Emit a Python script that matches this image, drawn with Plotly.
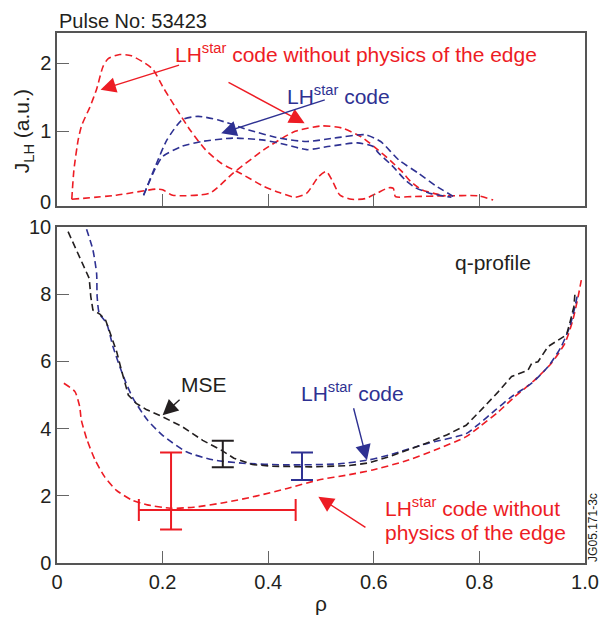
import plotly.graph_objects as go

# ---------------- data: top panel (J_LH, a.u.) ----------------
rho_red_a = [0.028, 0.032, 0.040, 0.046, 0.053, 0.062, 0.075, 0.087, 0.097, 0.119, 0.141, 0.167,
             0.182, 0.200, 0.223, 0.252, 0.281, 0.311, 0.348, 0.392, 0.421, 0.451, 0.473, 0.495,
             0.510, 0.521, 0.536, 0.558, 0.584, 0.606, 0.628, 0.637, 0.641, 0.672, 0.736, 0.798, 0.826]
j_red_a = [0.00, 0.43, 0.87, 1.07, 1.20, 1.35, 1.62, 1.95, 2.07, 2.13, 2.11, 2.00,
           1.91, 1.66, 1.37, 1.02, 0.73, 0.53, 0.38, 0.19, 0.10, 0.03, 0.09, 0.33,
           0.41, 0.28, 0.06, 0.00, 0.01, 0.09, 0.17, 0.16, 0.04, 0.04, 0.05, 0.05, -0.01]

rho_red_b = [0.028, 0.112, 0.188, 0.200, 0.219, 0.289, 0.333, 0.392, 0.451, 0.503, 0.539, 0.576,
             0.609, 0.634, 0.653, 0.670, 0.691, 0.717, 0.736]
j_red_b = [0.00, 0.06, 0.15, 0.14, 0.06, 0.09, 0.38, 0.73, 1.00, 1.08, 1.05, 0.92,
           0.72, 0.55, 0.41, 0.26, 0.14, 0.08, 0.05]

rho_blue_1 = [0.164, 0.186, 0.208, 0.237, 0.267, 0.304, 0.363, 0.421, 0.473, 0.525, 0.584, 0.613,
              0.647, 0.685, 0.717, 0.751]
j_blue_1 = [0.06, 0.48, 0.87, 1.17, 1.22, 1.17, 1.02, 0.90, 0.85, 0.90, 0.95, 0.85,
            0.58, 0.38, 0.20, 0.04]

rho_blue_2 = [0.164, 0.186, 0.200, 0.237, 0.274, 0.333, 0.392, 0.436, 0.473, 0.517, 0.569, 0.598,
              0.609, 0.634, 0.660, 0.679, 0.710, 0.747]
j_blue_2 = [0.06, 0.45, 0.63, 0.78, 0.85, 0.90, 0.87, 0.80, 0.73, 0.78, 0.83, 0.78,
            0.68, 0.50, 0.28, 0.17, 0.08, 0.03]

# ---------------- data: bottom panel (q-profile) ----------------
rho_mse = [0.021, 0.040, 0.055, 0.061, 0.064, 0.068, 0.081, 0.092, 0.103, 0.113, 0.122, 0.135,
           0.150, 0.169, 0.200, 0.237, 0.276, 0.311, 0.335, 0.370, 0.407, 0.481, 0.554, 0.591,
           0.628, 0.665, 0.702, 0.738, 0.775, 0.800, 0.836, 0.861, 0.892, 0.899, 0.911, 0.930,
           0.955, 0.965, 0.971, 0.979, 0.981]
q_mse = [9.86, 9.22, 8.72, 8.47, 7.93, 7.53, 7.41, 7.23, 6.74, 6.29, 5.74, 5.00,
         4.75, 4.57, 4.35, 4.06, 3.65, 3.36, 3.12, 2.93, 2.88, 2.86, 2.90, 2.98,
         3.16, 3.36, 3.58, 3.81, 4.10, 4.50, 5.10, 5.55, 5.74, 5.94, 5.99, 6.44,
         6.69, 6.79, 7.13, 7.63, 8.03]

rho_lh = [0.056, 0.068, 0.075, 0.076, 0.080, 0.094, 0.106, 0.119, 0.131, 0.144, 0.171, 0.200,
          0.245, 0.295, 0.352, 0.433, 0.534, 0.591, 0.628, 0.702, 0.775, 0.800, 0.830, 0.861,
          0.899, 0.930, 0.955, 0.971, 0.981, 0.985]
q_lh = [9.93, 9.32, 8.62, 7.93, 7.43, 7.13, 6.44, 5.84, 5.35, 4.90, 4.26, 3.80,
        3.31, 3.07, 2.97, 2.92, 2.95, 3.07, 3.21, 3.56, 3.85, 4.15, 4.55, 4.95,
        5.35, 5.84, 6.44, 7.03, 7.63, 7.93]

rho_noedge = [0.013, 0.034, 0.043, 0.046, 0.057, 0.072, 0.090, 0.112, 0.141, 0.171, 0.215, 0.259,
              0.318, 0.377, 0.436, 0.495, 0.554, 0.598, 0.657, 0.716, 0.775, 0.800, 0.836, 0.867,
              0.905, 0.936, 0.962, 0.977, 0.987, 0.993]
q_noedge = [5.35, 5.10, 4.65, 4.26, 3.66, 3.07, 2.57, 2.17, 1.88, 1.73, 1.63, 1.66,
            1.80, 1.99, 2.22, 2.47, 2.63, 2.77, 3.02, 3.36, 3.76, 4.05, 4.50, 4.95,
            5.45, 5.94, 6.54, 7.23, 7.93, 8.42]

# error bars: [rho, q, +err, -err]
err_mse = [0.314, 3.245, 0.395, 0.395]
err_lh = [0.464, 2.88, 0.41, 0.41]
err_noedge = [0.216, 1.58, 1.71, 0.58]
err_noedge_x = [0.236, 0.061]

x_ticks = [0, 0.2, 0.4, 0.6, 0.8, 1.0]
x_ticktext = ["0", "0.2", "0.4", "0.6", "0.8", "1.0"]
q_ticks = [0, 2, 4, 6, 8, 10]
j_ticks = [1, 2]

RED = "#ed1c24"
BLUE = "#2e3192"
BLACK = "#231f20"
AXC = "#555555"
FONT = "Arial, Liberation Sans, sans-serif"
DASH = "7px,4px"
LW = 1.6

fig = go.Figure()

def add_line(x, y, color, xa, ya, shape="spline"):
    fig.add_trace(go.Scatter(x=x, y=y, mode="lines", xaxis=xa, yaxis=ya,
                             line=dict(color=color, width=LW, dash=DASH, shape=shape, smoothing=0.6),
                             showlegend=False, hoverinfo="skip"))

add_line(rho_red_a, j_red_a, RED, "x", "y")
add_line(rho_red_b, j_red_b, RED, "x", "y")
add_line(rho_blue_1, j_blue_1, BLUE, "x", "y")
add_line(rho_blue_2, j_blue_2, BLUE, "x", "y")

add_line(rho_noedge, q_noedge, RED, "x2", "y2")
add_line(rho_lh, q_lh, BLUE, "x2", "y2")
add_line(rho_mse, q_mse, BLACK, "x2", "y2", shape="linear")

def add_err(e, color, ex=None):
    kw = {}
    if ex is not None:
        kw["error_x"] = dict(type="data", symmetric=False, array=[ex[0]], arrayminus=[ex[1]],
                             color=color, thickness=2, width=11)
    fig.add_trace(go.Scatter(x=[e[0]], y=[e[1]], mode="markers", xaxis="x2", yaxis="y2",
                             marker=dict(size=1, color=color),
                             error_y=dict(type="data", symmetric=False, array=[e[2]], arrayminus=[e[3]],
                                          color=color, thickness=2, width=11),
                             showlegend=False, hoverinfo="skip", **kw))

add_err(err_mse, BLACK)
add_err(err_lh, BLUE)
add_err(err_noedge, RED, err_noedge_x)

axis_common = dict(showline=True, mirror=True, linecolor=AXC, linewidth=1.5, showgrid=False,
                   zeroline=False, ticks="inside", ticklen=12, tickwidth=1.3, tickcolor="#666666",
                   tickfont=dict(size=20, color=BLACK, family=FONT))

fig.update_layout(
    width=611, height=619,
    margin=dict(l=57, r=24, t=33, b=56),
    paper_bgcolor="white", plot_bgcolor="white",
    font=dict(family=FONT, color=BLACK),
    xaxis=dict(domain=[0, 1], range=[0, 1], anchor="y", tickvals=[0.2, 0.4, 0.6, 0.8],
               showticklabels=False, **axis_common),
    yaxis=dict(domain=[0.6736, 1], range=[-0.0985, 2.446], anchor="x", tickvals=j_ticks,
               **axis_common),
    xaxis2=dict(domain=[0, 1], range=[0, 1], anchor="y2", tickvals=x_ticks, ticktext=x_ticktext,
                **axis_common),
    yaxis2=dict(domain=[0, 0.634], range=[0, 10], anchor="x2", tickvals=q_ticks, **axis_common),
)

ann = []
def txt(text, x, y, xref, yref, color=BLACK, size=21, xanchor="left", yanchor="middle", angle=0):
    ann.append(dict(text=text, x=x, y=y, xref=xref, yref=yref, showarrow=False,
                    font=dict(size=size, color=color, family=FONT),
                    xanchor=xanchor, yanchor=yanchor, textangle=angle))

def arrow(hx, hy, tx, ty, xref, yref, color):
    ann.append(dict(text="", x=hx, y=hy, ax=tx, ay=ty, xref=xref, yref=yref,
                    axref=xref, ayref=yref, showarrow=True, arrowhead=2, arrowsize=2.2,
                    arrowwidth=1.4, arrowcolor=color, standoff=0))

# top panel
txt("Pulse No: 53423", 0, 1.0226, "paper", "paper", size=20, xanchor="left")
txt("J<sub>LH</sub> (a.u.)", -0.064, 0.815, "paper", "paper", size=21, xanchor="center", angle=-90)
txt("0", -0.007, 0.681, "paper", "paper", size=20, xanchor="right")
txt("LH<sup>star</sup> code without physics of the edge", 0.219, 2.15, "x", "y", color=RED)
txt("LH<sup>star</sup> code", 0.432, 1.53, "x", "y", color=BLUE)
arrow(0.0825, 1.61, 0.234, 1.98, "x", "y", RED)
arrow(0.469, 1.12, 0.322, 1.73, "x", "y", RED)
arrow(0.311, 0.97, 0.51, 1.47, "x", "y", BLUE)

# bottom panel
txt("q-profile", 0.825, 8.93, "x2", "y2", xanchor="center")
txt("MSE", 0.279, 5.30, "x2", "y2", xanchor="center")
arrow(0.200, 4.40, 0.235, 4.90, "x2", "y2", BLACK)
txt("LH<sup>star</sup> code", 0.458, 5.09, "x2", "y2", color=BLUE)
arrow(0.587, 3.06, 0.561, 4.65, "x2", "y2", BLUE)
txt("LH<sup>star</sup> code without", 0.617, 1.67, "x2", "y2", color=RED)
txt("physics of the edge", 0.617, 0.92, "x2", "y2", color=RED)
arrow(0.495, 1.97, 0.587, 1.03, "x2", "y2", RED)
txt("ρ", 0.5, -0.0755, "paper", "paper", size=21, xanchor="center")
txt("JG05.171-3c", 1.015, 0.068, "paper", "paper", size=12, xanchor="center", angle=-90)

fig.update_layout(annotations=ann)
fig.write_html("out.html")
